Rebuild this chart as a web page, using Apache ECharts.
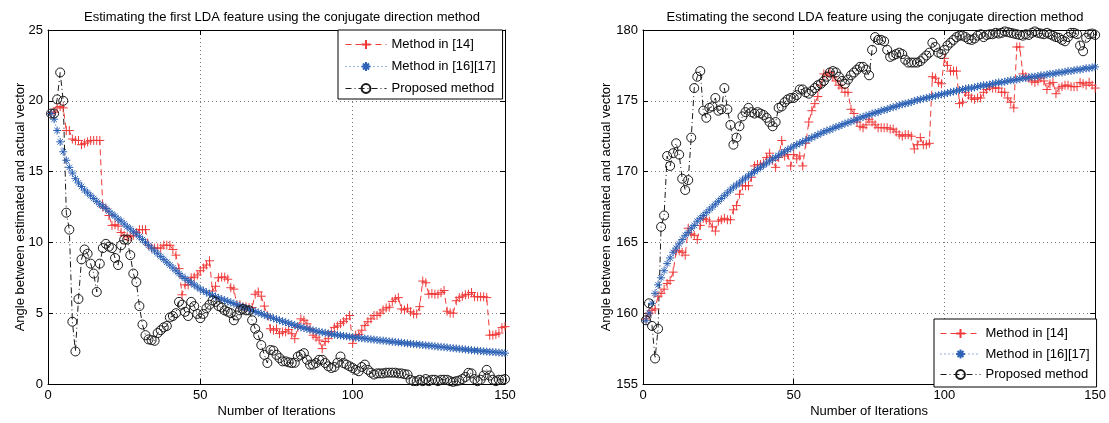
<!DOCTYPE html>
<html>
<head>
<meta charset="utf-8">
<script src="https://cdn.jsdelivr.net/npm/echarts@6/dist/echarts.min.js"></script>
<style>
  html, body { margin: 0; padding: 0; background: #fff; }
  #chart { width: 1109px; height: 423px; }
</style>
</head>
<body>
<div id="chart"></div>
<script>
// iteration k = index + 1
var seriesNames = ['Method in [14]', 'Method in [16][17]', 'Proposed method'];

// first LDA feature
var leftM14 = [
  19.1, 19.2, 19.5, 19.6, 19.5, 17.9, 17.9, 17.3, 17.2, 17.2,
  16.9, 17.0, 17.1, 17.2, 17.2, 17.2, 17.2, 12.5, 12.4, 11.9,
  11.2, 11.25, 11.15, 10.7, 10.5, 10.4, 10.4, 10.5, 10.7, 10.9,
  10.9, 10.9, 9.8, 9.6, 9.6, 9.6, 9.6, 9.8, 9.8, 9.8,
  9.5, 9.1, 8.15, 6.3, 7.0, 7.0, 7.5, 7.55, 7.7, 8.0,
  8.2, 8.4, 8.7, 6.57, 6.9, 7.5, 7.55, 7.55, 7.4, 6.8,
  6.7, 5.6, 5.6, 5.46, 5.45, 5.4, 5.4, 6.34, 6.5, 6.2,
  5.5, 4.84, 3.9, 3.8, 3.9, 3.56, 3.68, 3.68, 3.84, 3.55,
  3.2, 4.0, 4.6, 4.5, 4.25, 3.9, 3.45, 3.3, 3.1, 2.5,
  3.0, 3.2, 3.7, 4.0, 4.1, 4.26, 4.4, 4.6, 4.84, 2.87,
  3.45, 3.5, 3.8, 4.14, 4.4, 4.6, 4.84, 4.84, 5.0, 5.23,
  5.37, 5.42, 5.83, 6.0, 6.1, 5.3, 5.23, 5.35, 5.1, 4.95,
  4.95, 5.46, 7.27, 7.15, 6.34, 6.39, 6.34, 6.34, 6.45, 6.6,
  5.14, 5.02, 5.0, 5.88, 6.1, 6.2, 6.3, 6.34, 6.46, 6.16,
  6.16, 6.16, 6.16, 6.1, 3.45, 3.45, 3.5, 3.6, 3.98, 4.05
];
var leftM1617 = [
  19.1, 18.7, 17.9, 17.1, 16.4, 15.8, 15.3, 14.9, 14.5, 14.2,
  13.95, 13.7, 13.5, 13.3, 13.1, 12.9, 12.7, 12.55, 12.4, 12.2,
  12.0, 11.85, 11.65, 11.5, 11.3, 11.1, 10.95, 10.75, 10.6, 10.4,
  10.2, 10.0, 9.8, 9.6, 9.4, 9.2, 9.0, 8.8, 8.6, 8.4,
  8.2, 8.0, 7.8, 7.6, 7.45, 7.3, 7.15, 7.0, 6.85, 6.7,
  6.58, 6.47, 6.36, 6.26, 6.17, 6.08, 6.0, 5.92, 5.84, 5.76,
  5.68, 5.6, 5.52, 5.44, 5.36, 5.28, 5.2, 5.12, 5.04, 4.96,
  4.88, 4.8, 4.72, 4.64, 4.57, 4.5, 4.43, 4.36, 4.29, 4.22,
  4.15, 4.08, 4.01, 3.95, 3.89, 3.84, 3.79, 3.74, 3.69, 3.65,
  3.61, 3.57, 3.53, 3.49, 3.46, 3.43, 3.4, 3.37, 3.34, 3.31,
  3.28, 3.26, 3.23, 3.21, 3.18, 3.16, 3.13, 3.11, 3.08, 3.06,
  3.04, 3.01, 2.99, 2.96, 2.94, 2.92, 2.89, 2.87, 2.84, 2.82,
  2.8, 2.78, 2.75, 2.73, 2.71, 2.69, 2.67, 2.64, 2.62, 2.6,
  2.58, 2.55, 2.53, 2.51, 2.48, 2.46, 2.44, 2.41, 2.39, 2.37,
  2.35, 2.33, 2.31, 2.29, 2.27, 2.26, 2.24, 2.22, 2.2, 2.18
];
var leftProposed = [
  19.1, 19.1, 20.1, 22.0, 20.0, 12.1, 10.9, 4.4, 2.3, 6.0,
  8.8, 9.5, 9.2, 8.5, 7.8, 6.5, 8.5, 9.6, 9.9, 9.7,
  9.6, 8.9, 8.4, 9.8, 10.2, 10.2, 9.1, 7.8, 7.2, 5.5,
  4.2, 3.45, 3.15, 3.1, 3.05, 3.6, 3.8, 4.0, 4.1, 4.7,
  4.8, 5.0, 5.8, 5.6, 5.1, 4.8, 5.8, 5.5, 4.95, 4.65,
  4.95, 5.35, 5.6, 5.9, 5.8, 5.5, 5.4, 5.2, 5.1, 5.0,
  4.5, 4.84, 5.2, 5.3, 5.2, 5.2, 4.5, 3.9, 3.45, 2.75,
  2.06, 1.48, 2.4, 2.36, 2.06, 1.83, 1.6, 1.6, 1.53, 1.48,
  1.5, 1.94, 2.06, 2.18, 1.71, 1.37, 1.37, 1.48, 1.71, 1.71,
  1.48, 1.25, 1.13, 1.2, 1.5, 1.94, 1.48, 1.37, 1.25, 1.13,
  1.0, 0.9, 1.2, 1.37, 1.0, 0.8, 0.67, 0.75, 0.75, 0.75,
  0.8, 0.8, 0.8, 0.8, 0.75, 0.75, 0.7, 0.67, 0.3, 0.2,
  0.2, 0.3, 0.2, 0.35, 0.2, 0.3, 0.3, 0.2, 0.3, 0.3,
  0.3, 0.2, 0.15, 0.2, 0.25, 0.35, 0.5, 0.79, 0.75, 0.35,
  0.2, 0.3, 0.6, 1.0, 0.6, 0.3, 0.2, 0.3, 0.3, 0.35
];

// second LDA feature
var rightM14 = [
  159.6, 160.0, 160.2, 160.3, 161.2, 161.4, 161.7, 162.1, 162.3, 162.9,
  164.4, 164.4, 164.3, 164.1, 166.0, 165.6, 165.5, 165.2, 166.2, 166.7,
  166.6, 166.5, 166.1, 165.8, 166.5, 166.6, 166.7, 166.6, 166.6, 167.3,
  167.6, 168.4, 169.0, 169.0, 169.0, 169.6, 170.4, 170.5, 170.5, 170.6,
  171.0, 171.3, 170.8, 170.3, 171.0, 172.2, 171.1, 171.2, 170.4, 171.2,
  170.9, 171.1, 170.4, 172.0, 173.5, 174.3, 174.8, 175.3, 176.1, 176.9,
  176.8, 177.0, 176.7, 176.4, 176.1, 175.9, 175.6, 175.6, 174.4, 174.1,
  173.5, 173.2, 173.1, 173.3, 173.7, 173.5, 173.3, 173.1, 173.1, 173.1,
  173.1, 173.0, 173.0, 172.8, 172.6, 172.5, 172.6, 172.6, 172.5, 171.6,
  171.9, 172.4, 171.9, 171.9, 172.0, 176.7, 176.6, 176.3, 176.2, 178.0,
  177.5, 177.1, 177.1, 177.1, 174.8, 174.9, 175.6, 175.4, 175.2, 175.1,
  175.2, 175.2, 175.6, 175.8, 176.0, 175.9, 175.9, 175.9, 175.6, 175.6,
  175.2, 174.9, 174.5, 178.8, 178.8, 176.9, 176.7, 176.6, 176.4, 176.3,
  176.4, 176.6, 176.4, 175.8, 176.2, 176.3, 175.5, 175.9, 176.0, 176.1,
  176.1, 176.0, 176.0, 176.0, 176.3, 176.2, 176.1, 176.3, 176.1, 175.9
];
var rightM1617 = [
  159.5, 160.0, 160.7, 161.4, 162.0, 162.5, 163.0, 163.5, 163.9, 164.3,
  164.6, 164.9, 165.2, 165.5, 165.7, 166.0, 166.2, 166.5, 166.7, 166.9,
  167.1, 167.3, 167.5, 167.7, 167.9, 168.1, 168.3, 168.5, 168.7, 168.9,
  169.05, 169.2, 169.4, 169.55, 169.7, 169.85, 170.0, 170.15, 170.3, 170.45,
  170.6, 170.75, 170.9, 171.0, 171.15, 171.3, 171.4, 171.55, 171.65, 171.8,
  171.9, 172.0, 172.1, 172.2, 172.3, 172.4, 172.5, 172.6, 172.7, 172.8,
  172.9, 172.95, 173.05, 173.15, 173.2, 173.3, 173.4, 173.45, 173.55, 173.6,
  173.7, 173.8, 173.85, 173.95, 174.0, 174.1, 174.15, 174.2, 174.3, 174.35,
  174.4, 174.5, 174.55, 174.6, 174.7, 174.75, 174.8, 174.85, 174.9, 175.0,
  175.05, 175.1, 175.15, 175.2, 175.25, 175.3, 175.35, 175.4, 175.45, 175.5,
  175.55, 175.6, 175.65, 175.7, 175.75, 175.8, 175.85, 175.9, 175.9, 175.95,
  176.0, 176.05, 176.1, 176.1, 176.15, 176.2, 176.25, 176.3, 176.3, 176.35,
  176.4, 176.45, 176.45, 176.5, 176.55, 176.6, 176.6, 176.65, 176.7, 176.7,
  176.75, 176.8, 176.8, 176.85, 176.9, 176.9, 176.95, 177.0, 177.0, 177.05,
  177.1, 177.1, 177.15, 177.2, 177.2, 177.25, 177.3, 177.3, 177.35, 177.4
];
var rightProposed = [
  159.5, 160.7, 159.1, 156.8, 158.9, 166.1, 166.9, 171.1, 170.4, 171.3,
  172.0, 171.2, 169.5, 168.7, 169.4, 172.4, 175.9, 176.7, 177.1, 174.3,
  173.8, 174.5, 174.6, 175.2, 174.3, 174.4, 175.9, 174.4, 173.3, 171.9,
  172.4, 173.2, 173.9, 174.2, 174.5, 174.2, 174.1, 174.2, 174.1, 174.0,
  173.8, 173.5, 173.2, 173.5, 174.5, 174.6, 174.9, 175.1, 175.2, 175.2,
  175.4, 175.8, 175.8, 175.6, 175.5, 175.7, 175.9, 176.1, 176.2, 176.4,
  176.7, 177.0, 177.1, 177.0, 176.7, 176.4, 176.2, 176.5, 176.8, 177.0,
  177.2, 177.4, 177.4, 177.2, 176.8, 178.6, 179.5, 179.3, 179.3, 179.2,
  178.6, 178.1, 178.2, 178.3, 178.4, 178.3, 177.9, 177.7, 177.7, 177.7,
  177.7, 177.8, 178.0, 178.2, 178.4, 179.1, 178.8, 178.4, 178.3, 178.6,
  178.9, 179.1, 179.3, 179.5, 179.6, 179.6, 179.5, 179.35, 179.3, 179.4,
  179.6, 179.7, 179.5, 179.65, 179.7, 179.7, 179.8, 179.75, 179.8, 179.9,
  179.85, 179.8, 179.75, 179.7, 179.65, 179.6, 179.7, 179.65, 179.8, 179.9,
  179.8, 179.75, 179.7, 179.8, 179.7, 179.6, 179.5, 179.45, 179.3, 179.2,
  179.5, 179.8, 179.8, 179.7, 178.9, 178.5, 179.45, 179.7, 179.75, 179.65
];

var xTicks = { min: 0, max: 150, interval: 50 };
var leftTicks = { min: 0, max: 25, interval: 5 };
var rightTicks = { min: 155, max: 180, interval: 5 };

var FONT = '"Liberation Sans", Arial, Helvetica, sans-serif';
var FS = 13;
var RED = '#f03a3a', BLUE = '#2d62b6', BLACK = '#1a1a1a';
var PLUS = 'path://M5,0L5,10M0,5L10,5';
var STAR = 'path://M5,0L5,10M0,5L10,5M1.6,1.6L8.4,8.4M1.6,8.4L8.4,1.6';

function pairs(values) {
    return values.map(function(v, i) { return [i + 1, v]; });
}

function makeSeries(values, gi, which) {
    var s = {
        name: seriesNames[which],
        type: 'line',
        xAxisIndex: gi * 2,
        yAxisIndex: gi * 2,
        data: pairs(values),
        animation: false,
        showAllSymbol: true
    };
    if (which === 0) {
        s.symbol = PLUS; s.symbolSize = 9;
        s.lineStyle = { color: RED, width: 1, type: [6, 4] };
        s.itemStyle = { color: RED, borderColor: RED, borderWidth: 1 };
    } else if (which === 1) {
        s.symbol = STAR; s.symbolSize = 8;
        s.lineStyle = { color: BLUE, width: 1, type: [1, 3] };
        s.itemStyle = { color: BLUE, borderColor: BLUE, borderWidth: 1 };
    } else {
        s.symbol = 'circle'; s.symbolSize = 9;
        s.lineStyle = { color: BLACK, width: 1, type: [6, 3, 1, 3] };
        s.itemStyle = { color: 'rgba(0,0,0,0)', borderColor: BLACK, borderWidth: 1 };
    }
    return s;
}

function xAxes(gi) {
    var base = {
        gridIndex: gi, type: 'value',
        min: xTicks.min, max: xTicks.max, interval: xTicks.interval,
        axisLine: { show: true, onZero: false, lineStyle: { color: '#000', width: 1 } },
        axisTick: { show: true, inside: true, length: 5, lineStyle: { color: '#000' } }
    };
    var bottom = Object.assign({}, base, {
        position: 'bottom',
        axisLabel: { color: '#000', fontSize: FS, fontFamily: FONT, margin: 5 },
        splitLine: { show: true, lineStyle: { color: '#7a7a7a', type: [1, 3], width: 1 } },
        name: 'Number of Iterations', nameLocation: 'middle', nameGap: 21,
        nameMoveOverlap: false,
        nameTextStyle: { color: '#000', fontSize: FS, fontFamily: FONT }
    });
    var top = Object.assign({}, base, {
        position: 'top', axisLabel: { show: false }, splitLine: { show: false }
    });
    return [bottom, top];
}

function yAxes(gi, ticks, gap) {
    var base = {
        gridIndex: gi, type: 'value',
        min: ticks.min, max: ticks.max, interval: ticks.interval,
        axisLine: { show: true, onZero: false, lineStyle: { color: '#000', width: 1 } },
        axisTick: { show: true, inside: true, length: 5, lineStyle: { color: '#000' } }
    };
    var left = Object.assign({}, base, {
        position: 'left',
        axisLabel: { color: '#000', fontSize: FS, fontFamily: FONT, margin: 5 },
        splitLine: { show: true, lineStyle: { color: '#7a7a7a', type: [1, 3], width: 1 } },
        name: 'Angle between estimated and actual vector', nameLocation: 'middle', nameGap: gap,
        nameMoveOverlap: false,
        nameTextStyle: { color: '#000', fontSize: FS, fontFamily: FONT }
    });
    var right = Object.assign({}, base, {
        position: 'right', axisLabel: { show: false }, splitLine: { show: false }
    });
    return [left, right];
}

function legendAt(left, top, iw, gap, pad) {
    return {
        data: seriesNames,
        orient: 'vertical',
        left: left, top: top,
        itemWidth: iw, itemHeight: 11, itemGap: gap,
        padding: pad,
        borderColor: '#000', borderWidth: 1, borderRadius: 0,
        backgroundColor: '#fff',
        selectedMode: false,
        lineStyle: { width: 1 },
        textStyle: { color: '#000', fontSize: FS, fontFamily: FONT }
    };
}

var chart = echarts.init(document.getElementById('chart'));

var option = {
    backgroundColor: '#fff',
    animation: false,
    title: [{
        text: 'Estimating the first LDA feature using the conjugate direction method',
        left: 277, top: 6, textAlign: 'center',
        textStyle: { color: '#000', fontSize: FS, fontWeight: 'normal', fontFamily: FONT }
    }, {
        text: 'Estimating the second LDA feature using the conjugate direction method',
        left: 870, top: 6, textAlign: 'center',
        textStyle: { color: '#000', fontSize: FS, fontWeight: 'normal', fontFamily: FONT }
    }],
    legend: [
        legendAt(338, 30, 41, 9, [8, 7, 4, 7]),
        legendAt(934, 319, 40, 7.5, [8, 7, 6, 6])
    ],
    grid: [
        { left: 48, top: 30, width: 457, height: 358 },
        { left: 643, top: 30, width: 453, height: 358 }
    ],
    xAxis: xAxes(0).concat(xAxes(1)),
    yAxis: yAxes(0, leftTicks, 21).concat(yAxes(1, rightTicks, 30)),
    series: [
        makeSeries(leftM14, 0, 0),
        makeSeries(leftM1617, 0, 1),
        makeSeries(leftProposed, 0, 2),
        makeSeries(rightM14, 1, 0),
        makeSeries(rightM1617, 1, 1),
        makeSeries(rightProposed, 1, 2)
    ]
};

chart.setOption(option);
</script>
</body>
</html>
